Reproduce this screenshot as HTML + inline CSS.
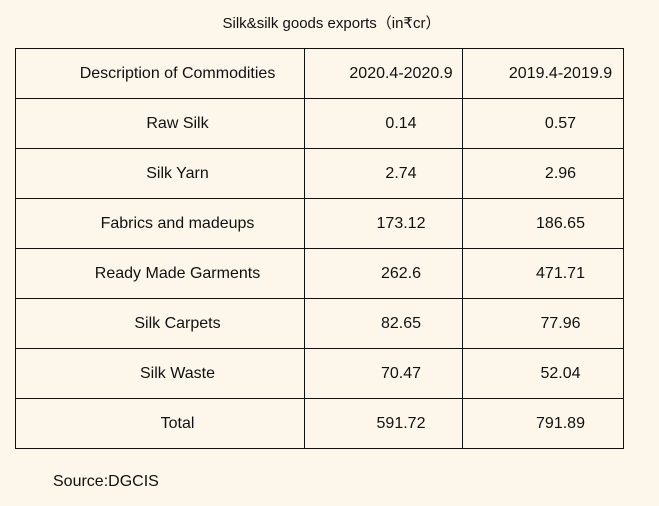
<!DOCTYPE html>
<html><head><meta charset="utf-8"><style>
body{margin:0;width:659px;height:506px;background:#fdf6ea;font-family:"Liberation Sans",sans-serif;color:#111;position:relative;overflow:hidden}
.title{position:absolute;top:12px;left:0;width:659px;text-align:center;font-size:15px;padding-left:4px;box-sizing:border-box}
table{position:absolute;left:15px;top:48px;border-collapse:collapse}
td{border:1px solid #111;height:50px;padding:0 0 0 35px;text-align:center;font-size:16px;box-sizing:border-box}
td:nth-child(1){width:289px}
td:nth-child(2){width:158px}
td:nth-child(3){width:161px}
.src{position:absolute;left:53px;top:473px;font-size:16px}
</style></head><body>
<div class="title">Silk&amp;silk goods exports（in₹cr）</div>
<table>
<tr><td>Description of Commodities</td><td>2020.4-2020.9</td><td>2019.4-2019.9</td></tr>
<tr><td>Raw Silk</td><td>0.14</td><td>0.57</td></tr>
<tr><td>Silk Yarn</td><td>2.74</td><td>2.96</td></tr>
<tr><td>Fabrics and madeups</td><td>173.12</td><td>186.65</td></tr>
<tr><td>Ready Made Garments</td><td>262.6</td><td>471.71</td></tr>
<tr><td>Silk Carpets</td><td>82.65</td><td>77.96</td></tr>
<tr><td>Silk Waste</td><td>70.47</td><td>52.04</td></tr>
<tr><td>Total</td><td>591.72</td><td>791.89</td></tr>
</table>
<div class="src">Source:DGCIS</div>
</body></html>
